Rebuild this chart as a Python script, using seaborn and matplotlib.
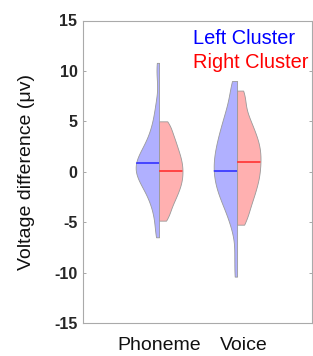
import numpy as np
import pandas as pd
import matplotlib
matplotlib.use("Agg")
import matplotlib.pyplot as plt
import seaborn as sns

# ---- data ----
categories = ["Phoneme", "Voice"]
clusters = ["Left Cluster", "Right Cluster"]

phoneme_left = [-6.5, -5.6, -4.55, -3.83, -3.24, -2.82, -2.4, -2.03, -1.77, -1.51,
                -1.25, -1.02, -0.84, -0.67, -0.49, -0.31, -0.14, 0.02, 0.18, 0.34,
                0.49, 0.65, 0.81, 0.97, 1.14, 1.31, 1.48, 1.68, 1.9, 2.12,
                2.33, 2.56, 2.93, 3.27, 3.62, 4.04, 4.63, 5.2, 6.05, 7.1,
                9.4, 10.8]
phoneme_right = [-4.85, -4.55, -4.11, -3.72, -3.33, -3.0, -2.76, -2.51, -2.28, -2.03,
                 -1.79, -1.6, -1.41, -1.22, -1.03, -0.85, -0.66, -0.47, -0.29, -0.11,
                 0.07, 0.24, 0.41, 0.6, 0.79, 0.98, 1.17, 1.36, 1.55, 1.74,
                 1.93, 2.18, 2.42, 2.66, 2.91, 3.15, 3.39, 3.7, 4.07, 4.44,
                 4.82, 5.0]
voice_left = [-10.4, -8.27, -5.97, -5.01, -4.23, -3.76, -3.3, -2.84, -2.53, -2.23,
              -1.93, -1.64, -1.35, -1.05, -0.81, -0.56, -0.32, -0.06, 0.18, 0.43,
              0.68, 0.94, 1.19, 1.44, 1.69, 1.95, 2.2, 2.5, 2.79, 3.09,
              3.39, 3.68, 4.03, 4.41, 4.79, 5.17, 5.57, 6.14, 6.7, 7.39,
              8.47, 9.0]
voice_right = [-5.25, -4.9, -4.27, -3.84, -3.41, -2.99, -2.63, -2.34, -2.05, -1.76,
               -1.47, -1.18, -0.93, -0.69, -0.46, -0.23, 0.01, 0.24, 0.48, 0.72,
               0.95, 1.19, 1.41, 1.63, 1.85, 2.07, 2.3, 2.54, 2.79, 3.04,
               3.29, 3.53, 3.78, 4.13, 4.47, 4.83, 5.18, 5.56, 6.28, 6.98,
               7.69, 8.05]

# centre lines drawn in each half
center_left = [0.85, 0.1]
center_right = [0.05, 1.0]

yticks = [-15, -10, -5, 0, 5, 10, 15]

# ---- build long table ----
rows = []
for cat, left, right in [("Phoneme", phoneme_left, phoneme_right),
                         ("Voice", voice_left, voice_right)]:
    rows += [(cat, "Left Cluster", v) for v in left]
    rows += [(cat, "Right Cluster", v) for v in right]
df = pd.DataFrame(rows, columns=["cond", "cluster", "value"])

sns.set_theme(style="white")
plt.rcParams["font.family"] = ["Liberation Sans", "DejaVu Sans"]

fig = plt.figure(figsize=(3.13, 3.56), dpi=100)
ax = fig.add_axes([83 / 313, 1 - 323 / 356, 229 / 313, 302.5 / 356])

fill_cols = {"Left Cluster": "#b0b0ff", "Right Cluster": "#ffb0b0"}
sns.violinplot(data=df, x="cond", y="value", hue="cluster", order=categories,
               hue_order=clusters, split=True, inner=None, cut=0,
               density_norm="width", width=0.6, bw_adjust=0.6, gap=0,
               palette=fill_cols, saturation=1, linewidth=0.6,
               linecolor="#999999", legend=False, ax=ax)

# centre lines, clipped to each half violin
polys = [c for c in ax.collections]
line_cols = {"Left Cluster": "#3333ff", "Right Cluster": "#ff3333"}
for poly in polys:
    verts = poly.get_paths()[0].vertices
    xm = verts[:, 0].mean()
    cat_i = int(round(xm))
    is_left = xm < cat_i
    yv = center_left[cat_i] if is_left else center_right[cat_i]
    x0, x1 = (cat_i - 0.5, cat_i) if is_left else (cat_i, cat_i + 0.5)
    ln, = ax.plot([x0, x1], [yv, yv],
                  color=line_cols["Left Cluster" if is_left else "Right Cluster"],
                  lw=1.2, zorder=5)
    ln.set_clip_path(poly.get_paths()[0], ax.transData)

ax.set_ylim(-15, 15)
ax.set_xlim(-0.975, 1.96)
ax.set_yticks(yticks)
ax.set_yticklabels([str(t) for t in yticks], fontsize=11.5, fontweight="bold",
                   color="#262626")
ax.set_xticks([0, 1.09])
ax.set_xticklabels(categories, fontsize=14, color="#111111")
ax.tick_params(axis="x", length=0, pad=10)
ax.tick_params(axis="y", direction="in", length=2.5, width=0.6,
               color="#999999", left=True, right=True, pad=4)
ax.set_xlabel("")
ax.set_ylabel("Voltage difference (\u03bcv)", fontsize=14, color="#111111",
              labelpad=14)
for s in ax.spines.values():
    s.set_visible(True)
    s.set_color("#aaaaaa")
    s.set_linewidth(0.8)

ax.text(0.48, 0.922, "Left Cluster", transform=ax.transAxes, color="#0000ff",
        fontsize=14.4, va="baseline", ha="left")
ax.text(0.48, 0.843, "Right Cluster", transform=ax.transAxes, color="#ff0000",
        fontsize=14.4, va="baseline", ha="left")

fig.savefig("out.png", dpi=100)
